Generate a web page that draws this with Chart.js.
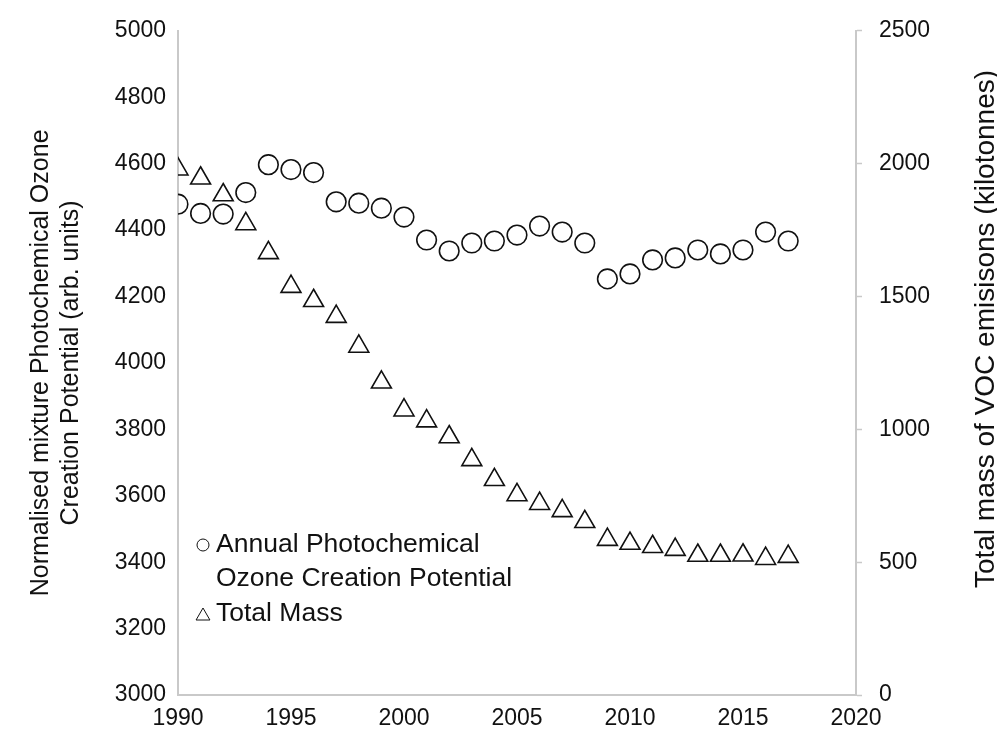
<!DOCTYPE html>
<html>
<head>
<meta charset="utf-8">
<script src="https://cdn.jsdelivr.net/npm/chart.js@4/dist/chart.umd.min.js"></script>
<style>
    html, body { margin: 0; padding: 0; background: #fff; }
    #wrap { width: 997px; height: 742px; }
</style>
</head>
<body>
<div id="wrap"><canvas id="vocChart" width="997" height="742"></canvas></div>
<script>
// Values
const years = [1990, 1991, 1992, 1993, 1994, 1995, 1996, 1997, 1998, 1999,
               2000, 2001, 2002, 2003, 2004, 2005, 2006, 2007, 2008, 2009,
               2010, 2011, 2012, 2013, 2014, 2015, 2016, 2017];

// Annual Photochemical Ozone Creation Potential (left axis)
const pocpValues = [4478, 4450, 4448, 4513, 4597, 4582, 4573, 4485, 4481, 4466,
                    4439, 4370, 4337, 4361, 4367, 4385, 4412, 4394, 4361, 4253,
                    4268, 4310, 4316, 4340, 4328, 4340, 4394, 4367];

// Total mass of VOC emissions, kilotonnes (right axis)
const totalMass = [1979, 1945, 1882, 1773, 1664, 1537, 1484, 1424, 1312, 1177,
                   1072, 1031, 971, 885, 810, 753, 720, 693, 652, 585,
                   570, 558, 547, 525, 525, 526, 513, 521];

const xTicks = [1990, 1995, 2000, 2005, 2010, 2015, 2020];
const leftTicks = [3000, 3200, 3400, 3600, 3800, 4000, 4200, 4400, 4600, 4800, 5000];
const rightTicks = [0, 500, 1000, 1500, 2000, 2500];

const leftTitle = ['Normalised mixture Photochemical Ozone', 'Creation Potential (arb. units)'];
const rightTitle = 'Total mass of VOC emisisons (kilotonnes)';
const legendItems = [
    { style: 'circle', lines: ['Annual Photochemical', 'Ozone Creation Potential'] },
    { style: 'triangle', lines: ['Total Mass'] }
];

const FONT = '"Liberation Sans", Arial, Helvetica, sans-serif';
const AXIS_GREY = '#c9c9c9';
const INK = '#111';

// Legend sits inside the plot, lower left; right title drawn off-centre like the original
const annotations = {
    id: 'annotations',
    afterDraw(chart) {
        const ctx = chart.ctx;
        const area = chart.chartArea;
        ctx.save();

        // legend
        ctx.font = '26.5px ' + FONT;
        ctx.textBaseline = 'middle';
        ctx.textAlign = 'left';
        let y = 545;
        legendItems.forEach(item => {
            ctx.strokeStyle = INK;
            ctx.fillStyle = '#fff';
            Chart.helpers.drawPoint(ctx, {
                pointStyle: item.style,
                radius: item.style === 'circle' ? 6 : 8,
                borderWidth: 1.4
            }, area.left + 25, item.style === 'circle' ? y : y + 2);
            ctx.fillStyle = INK;
            item.lines.forEach((line, i) => {
                ctx.fillText(line, area.left + 38, y + i * 34);
            });
            y += item.lines.length * 34 + 1;
        });

        // right axis title
        ctx.translate(986, 329);
        ctx.rotate(-Math.PI / 2);
        ctx.textAlign = 'center';
        ctx.font = '28px ' + FONT;
        ctx.fillText(rightTitle, 0, 0);
        ctx.restore();
    }
};

document.addEventListener('DOMContentLoaded', function() {
    const ctx = document.getElementById('vocChart').getContext('2d');

    new Chart(ctx, {
        type: 'scatter',
        data: {
            datasets: [{
                label: 'Annual Photochemical Ozone Creation Potential',
                data: years.map((yr, i) => ({ x: yr, y: pocpValues[i] })),
                yAxisID: 'y',
                pointStyle: 'circle',
                pointRadius: 9.8,
                borderWidth: 1.6,
                borderColor: INK,
                backgroundColor: 'rgba(255,255,255,0)'
            }, {
                label: 'Total Mass',
                data: years.map((yr, i) => ({ x: yr, y: totalMass[i] })),
                yAxisID: 'y1',
                pointStyle: 'triangle',
                pointRadius: 11.5,
                borderWidth: 1.6,
                borderColor: INK,
                backgroundColor: 'rgba(255,255,255,0)'
            }]
        },
        options: {
            responsive: false,
            animation: false,
            layout: { padding: { top: 28 } },
            plugins: {
                legend: { display: false },
                tooltip: { enabled: false }
            },
            scales: {
                x: {
                    type: 'linear',
                    min: 1990,
                    max: 2020,
                    afterBuildTicks: scale => { scale.ticks = xTicks.map(v => ({ value: v })); },
                    afterFit: scale => { scale.height = 47; },
                    grid: { display: false, drawTicks: false },
                    border: { color: AXIS_GREY, width: 2 },
                    ticks: {
                        padding: 10,
                        maxRotation: 0,
                        color: INK,
                        font: { family: FONT, size: 23 },
                        callback: v => String(v)
                    }
                },
                y: {
                    position: 'left',
                    min: 3000,
                    max: 5000,
                    afterBuildTicks: scale => { scale.ticks = leftTicks.map(v => ({ value: v })); },
                    afterFit: scale => { scale.width = 178; },
                    grid: { display: false, drawTicks: false },
                    border: { color: AXIS_GREY, width: 2 },
                    ticks: {
                        padding: 12,
                        color: INK,
                        font: { family: FONT, size: 23 },
                        callback: v => String(v)
                    },
                    title: {
                        display: true,
                        text: leftTitle,
                        color: INK,
                        font: { family: FONT, size: 25, lineHeight: 1.2 },
                        padding: { top: 26, bottom: 0 }
                    }
                },
                y1: {
                    position: 'right',
                    min: 0,
                    max: 2500,
                    afterBuildTicks: scale => { scale.ticks = rightTicks.map(v => ({ value: v })); },
                    afterFit: scale => { scale.width = 141; },
                    grid: {
                        display: true,
                        drawOnChartArea: false,
                        drawTicks: true,
                        tickLength: 6,
                        tickWidth: 1.5,
                        tickColor: AXIS_GREY
                    },
                    border: { color: AXIS_GREY, width: 2 },
                    ticks: {
                        padding: 17,
                        color: INK,
                        font: { family: FONT, size: 23 },
                        callback: v => String(v)
                    }
                }
            }
        },
        plugins: [annotations]
    });
});
</script>
</body>
</html>
